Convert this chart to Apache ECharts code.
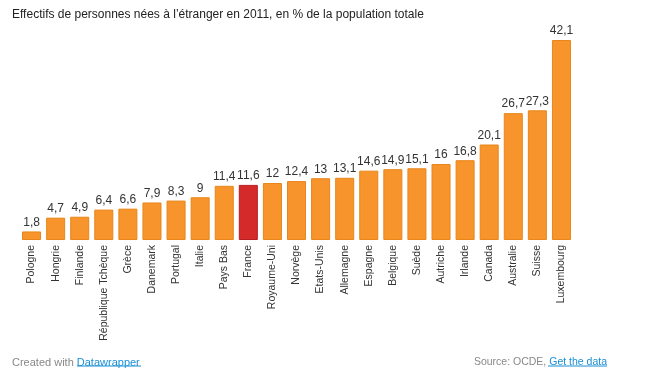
<!DOCTYPE html>
<html>
<head>
<meta charset="utf-8">
<script src="https://cdn.jsdelivr.net/npm/echarts@6/dist/echarts.min.js"></script>
<style>
  html, body { margin: 0; padding: 0; background: #fff; }
  #chart { width: 658px; height: 375px; }
</style>
</head>
<body>
<div id="chart"></div>
<script>
var pays = ['Pologne', 'Hongrie', 'Finlande', 'République Tchèque', 'Grèce', 'Danemark', 'Portugal',
    'Italie', 'Pays Bas', 'France', 'Royaume-Uni', 'Norvège', 'Etats-Unis', 'Allemagne', 'Espagne',
    'Belgique', 'Suède', 'Autriche', 'Irlande', 'Canada', 'Australie', 'Suisse', 'Luxembourg'];
var valeurs = [1.8, 4.7, 4.9, 6.4, 6.6, 7.9, 8.3, 9, 11.4, 11.6, 12, 12.4, 13, 13.1, 14.6,
    14.9, 15.1, 16, 16.8, 20.1, 26.7, 27.3, 42.1];
var paysMisEnAvant = 'France';

var font = 'Liberation Sans, Arial, sans-serif';
var myChart = echarts.init(document.getElementById('chart'));

var data = valeurs.map(function (v, i) {
    if (pays[i] === paysMisEnAvant) {
        return { value: v, itemStyle: { color: '#d42a2a', borderColor: '#b81e24' } };
    }
    return v;
});

function pied(texte, lien, size) {
    return {
        text: '{g|' + texte + '}{l|' + lien + '}',
        textStyle: {
            fontFamily: font, fontSize: size, fontWeight: 'normal',
            rich: {
                g: { fontFamily: font, fontSize: size, color: '#888' },
                l: { fontFamily: font, fontSize: size, color: '#1a8fd6' }
            }
        }
    };
}

var footGauche = pied('Created with ', 'Datawrapper', 11);
footGauche.left = 7; footGauche.top = 352;
var footDroite = pied('Source: OCDE, ', 'Get the data', 10.5);
footDroite.right = 46; footDroite.top = 352;

var option = {
    animation: false,
    title: [{
        text: 'Effectifs de personnes nées à l\u2019étranger en 2011, en % de la population totale',
        left: 7, top: 4,
        textStyle: { fontFamily: font, fontSize: 12, fontWeight: 'normal', color: '#222' }
    }, footGauche, footDroite],
    graphic: [
        { type: 'line', shape: { x1: 77, y1: 366, x2: 141, y2: 366 }, style: { stroke: '#1a8fd6', lineWidth: 1 } },
        { type: 'line', shape: { x1: 548, y1: 366, x2: 607, y2: 366 }, style: { stroke: '#1a8fd6', lineWidth: 1 } }
    ],
    grid: { left: 19.5, right: 84.5, top: 40, bottom: 135 },
    xAxis: {
        type: 'category',
        data: pays,
        axisLine: { show: false },
        axisTick: { show: false },
        axisLabel: {
            rotate: 90, interval: 0, margin: 5,
            fontFamily: font, fontSize: 10.5, color: '#333'
        }
    },
    yAxis: {
        type: 'value', min: 0, max: 42.1,
        show: false,
        splitLine: { show: false }
    },
    series: [{
        type: 'bar',
        data: data,
        barCategoryGap: '21%',
        itemStyle: { color: '#f7942b', borderColor: '#e8861a', borderWidth: 1 },
        label: {
            show: true, position: 'top', distance: 3,
            fontFamily: font, fontSize: 12, color: '#333',
            formatter: function (p) { return String(p.value).replace('.', ','); }
        }
    }]
};
myChart.setOption(option);
</script>
</body>
</html>
